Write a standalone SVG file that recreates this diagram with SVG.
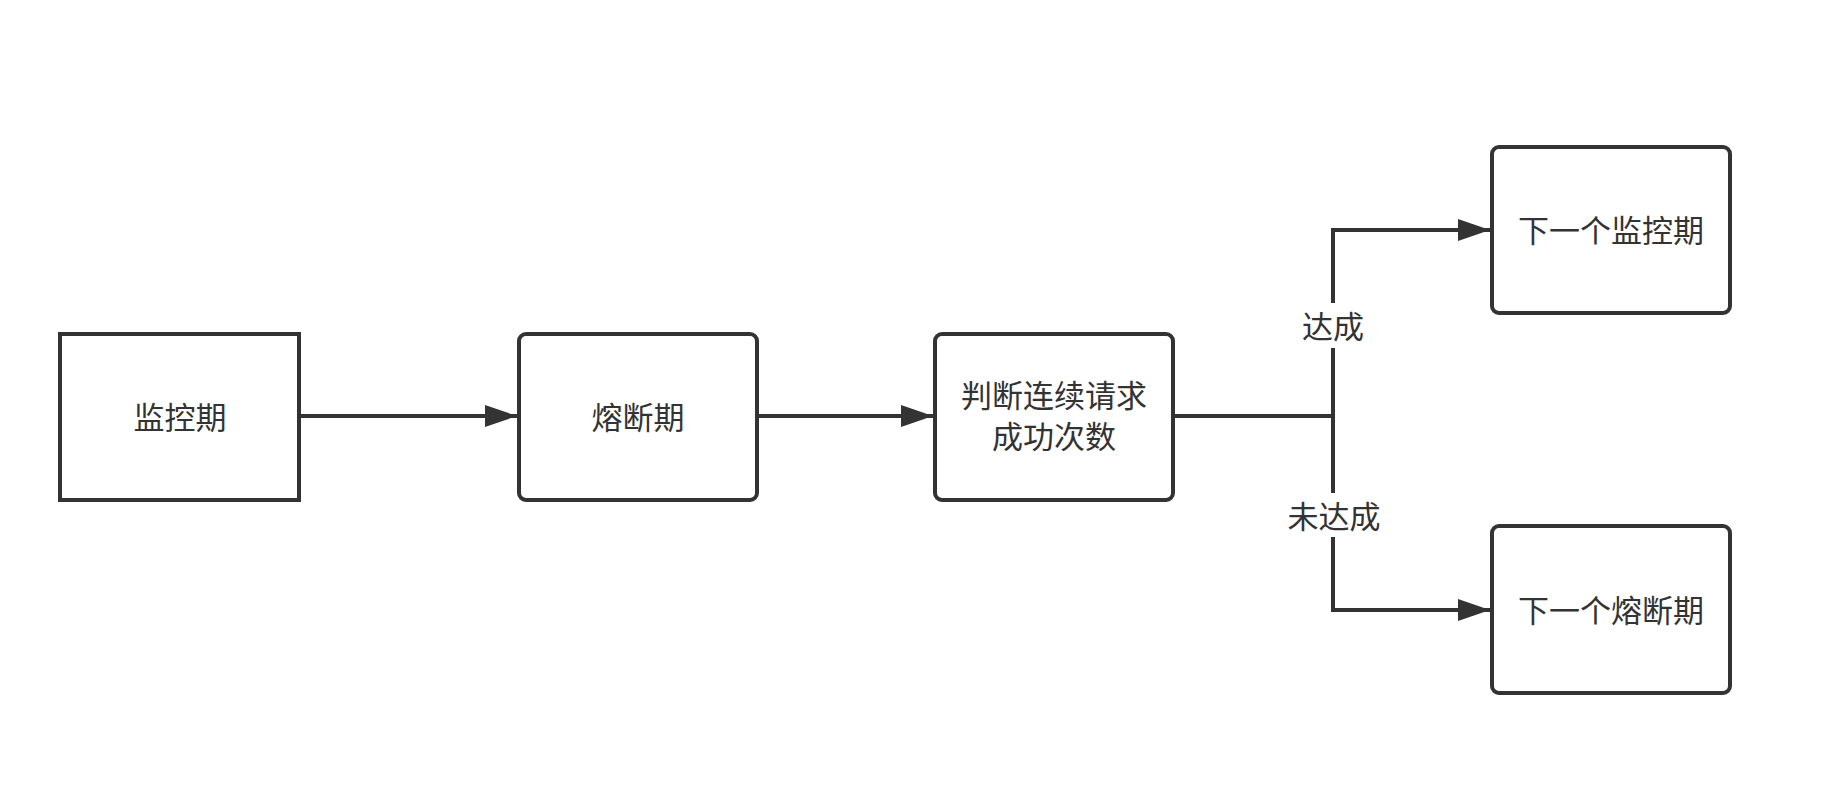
<svg xmlns="http://www.w3.org/2000/svg" width="1838" height="812" viewBox="0 0 1838 812">
<style>
.box{fill:#fff;stroke:#333;stroke-width:4}
.t{font-family:"Noto Sans CJK SC","Noto Sans",sans-serif;font-size:31px;fill:#333;text-anchor:middle;dominant-baseline:central}
.c{fill:none;stroke:#333;stroke-width:4}
</style>
<defs>
<marker id="ah" viewBox="0 0 32 22" refX="32" refY="11" markerWidth="32" markerHeight="22" markerUnits="userSpaceOnUse" orient="auto">
<path d="M0,0 L32,11 L0,22 Z" fill="#333"/>
</marker>
</defs>
<rect width="1838" height="812" fill="#fff"/>
<g id="connectors">
<path class="c" d="M301,416 H517" marker-end="url(#ah)"/>
<path class="c" d="M759,416 H933" marker-end="url(#ah)"/>
<path class="c" d="M1175,416 H1333"/>
<path class="c" d="M1333,493 V348"/>
<path class="c" d="M1333,303 V230 H1490" marker-end="url(#ah)"/>
<path class="c" d="M1333,537 V610 H1490" marker-end="url(#ah)"/>
<text class="t" x="1333" y="324">达成</text>
<text class="t" x="1334" y="514">未达成</text>
</g>
<g id="n1">
<rect class="box" x="60" y="334" width="239" height="166"/>
<text class="t" x="180" y="415">监控期</text>
</g>
<g id="n2">
<rect class="box" x="519" y="334" width="238" height="166" rx="7"/>
<text class="t" x="638" y="415">熔断期</text>
</g>
<g id="n3">
<rect class="box" x="935" y="334" width="238" height="166" rx="7"/>
<text class="t" x="1054" y="393">判断连续请求</text>
<text class="t" x="1054" y="434">成功次数</text>
</g>
<g id="n4">
<rect class="box" x="1492" y="147" width="238" height="166" rx="7"/>
<text class="t" x="1611" y="228">下一个监控期</text>
</g>
<g id="n5">
<rect class="box" x="1492" y="526" width="238" height="167" rx="7"/>
<text class="t" x="1611" y="608">下一个熔断期</text>
</g>
</svg>
